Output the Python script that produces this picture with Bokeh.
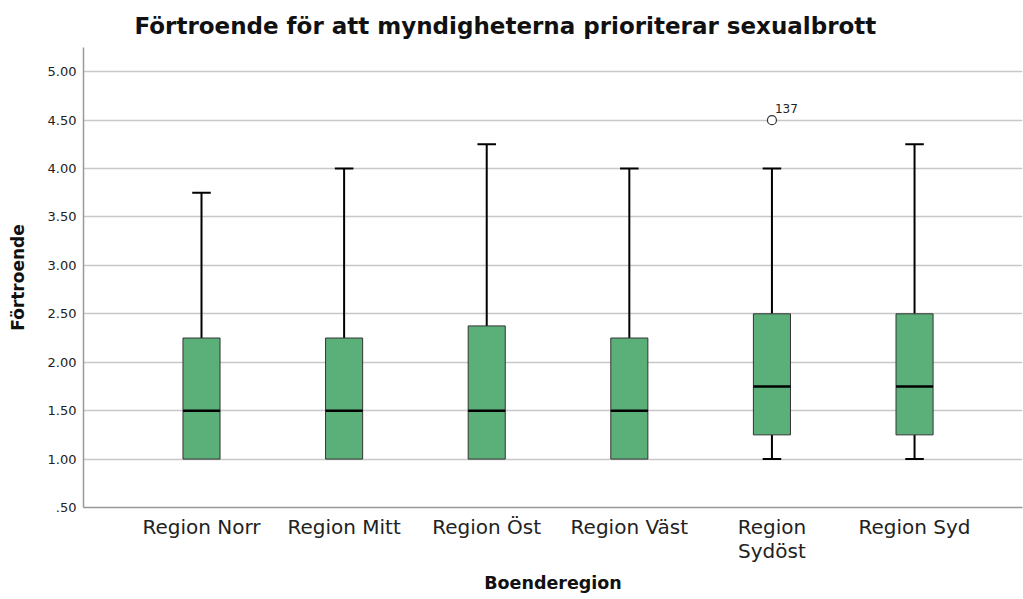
from bokeh.plotting import figure
from bokeh.models import ColumnDataSource, FixedTicker, Range1d, Title
from bokeh.core.properties import value
from bokeh.embed import file_html
from bokeh.resources import INLINE

title_text = "Förtroende för att myndigheterna prioriterar sexualbrott"
regions = ["Region Norr", "Region Mitt", "Region Öst", "Region Väst", "Region\nSydöst", "Region Syd"]
w_low = [1.00, 1.00, 1.00, 1.00, 1.00, 1.00]
q1 = [1.00, 1.00, 1.00, 1.00, 1.25, 1.25]
median = [1.50, 1.50, 1.50, 1.50, 1.75, 1.75]
q3 = [2.25, 2.25, 2.375, 2.25, 2.50, 2.50]
w_high = [3.75, 4.00, 4.25, 4.00, 4.00, 4.25]
outlier_region = [4]
outlier_value = [4.50]
outlier_label = ["137"]
y_ticks = [0.5, 1.0, 1.5, 2.0, 2.5, 3.0, 3.5, 4.0, 4.5, 5.0]

FONT = "DejaVu Sans"
xs = list(range(len(regions)))
BW = 0.26
CW = 0.13

src = ColumnDataSource(dict(x=xs, wl=w_low, q1=q1, med=median, q3=q3, wh=w_high,
                            left=[x - BW / 2 for x in xs], right=[x + BW / 2 for x in xs]))

p = figure(width=1023, height=599, output_backend="svg", toolbar_location=None,
           x_range=Range1d(-0.8275, 5.757), y_range=Range1d(0.5, 5.25),
           min_border_left=83, min_border_right=1, min_border_top=47, min_border_bottom=92)
p.outline_line_color = None
p.background_fill_color = "white"
p.border_fill_color = "white"

p.title = Title(text=title_text, align="left", text_font=FONT, text_font_size="23px",
                text_font_style="bold", text_color="#111111", offset=51, standoff=18,
                text_line_height=1.0)

# whiskers (only drawn where they extend beyond the box)
up = [i for i in xs if w_high[i] > q3[i]]
lo = [i for i in xs if w_low[i] < q1[i]]
p.segment(x0=[xs[i] for i in up], x1=[xs[i] for i in up], y0=[q3[i] for i in up], y1=[w_high[i] for i in up],
          line_color="black", line_width=2)
p.segment(x0=[xs[i] - CW / 2 for i in up], x1=[xs[i] + CW / 2 for i in up],
          y0=[w_high[i] for i in up], y1=[w_high[i] for i in up], line_color="black", line_width=2)
p.segment(x0=[xs[i] for i in lo], x1=[xs[i] for i in lo], y0=[w_low[i] for i in lo], y1=[q1[i] for i in lo],
          line_color="black", line_width=2)
p.segment(x0=[xs[i] - CW / 2 for i in lo], x1=[xs[i] + CW / 2 for i in lo],
          y0=[w_low[i] for i in lo], y1=[w_low[i] for i in lo], line_color="black", line_width=2)

p.quad(left="left", right="right", bottom="q1", top="q3", source=src,
       fill_color="#5bb07a", line_color="#333333", line_width=1)
p.segment(x0="left", x1="right", y0="med", y1="med", source=src, line_color="black", line_width=2.5)

p.scatter(x=outlier_region, y=outlier_value, size=9, marker="circle",
          fill_color="white", line_color="#333333", line_width=1.2)
p.text(x=outlier_region, y=outlier_value, text=outlier_label, x_offset=3, y_offset=-7,
       text_font=value(FONT), text_font_size="12px", text_color="#222222",
       text_baseline="bottom", text_align="left")

# axes
p.yaxis.ticker = FixedTicker(ticks=y_ticks)
p.yaxis.major_label_overrides = {t: ("%.2f" % t).lstrip("0") for t in y_ticks}
p.yaxis.axis_label = "Förtroende"
p.xaxis.ticker = FixedTicker(ticks=xs)
p.xaxis.major_label_overrides = {i: regions[i] for i in xs}
p.xaxis.axis_label = "Boenderegion"

for ax in (p.xaxis[0], p.yaxis[0]):
    ax.axis_line_color = "#999999"
    ax.axis_line_width = 1.5
    ax.major_tick_line_color = None
    ax.minor_tick_line_color = None
    ax.major_tick_out = 0
    ax.major_tick_in = 0
    ax.minor_tick_out = 0
    ax.minor_tick_in = 0
    ax.axis_label_text_font = FONT
    ax.axis_label_text_font_style = "bold"
    ax.axis_label_text_color = "#111111"
    ax.major_label_text_font = FONT
    ax.major_label_text_color = "#222222"

p.yaxis.axis_label_text_font_size = "17px"
p.yaxis.major_label_text_font_size = "13px"
p.yaxis.major_label_standoff = 7
p.yaxis.axis_label_standoff = 17
p.xaxis.axis_label_text_font_size = "17.5px"
p.xaxis.major_label_text_font_size = "20px"
p.xaxis.major_label_text_line_height = 1.0
p.xaxis.major_label_standoff = 7
p.xaxis.axis_label_standoff = 7

p.xgrid.grid_line_color = None
p.ygrid.ticker = FixedTicker(ticks=[t for t in y_ticks if t > 0.5])
p.ygrid.grid_line_color = "#c8c8c8"
p.ygrid.grid_line_width = 1.5

open("out.html", "w").write(file_html(p, INLINE))
